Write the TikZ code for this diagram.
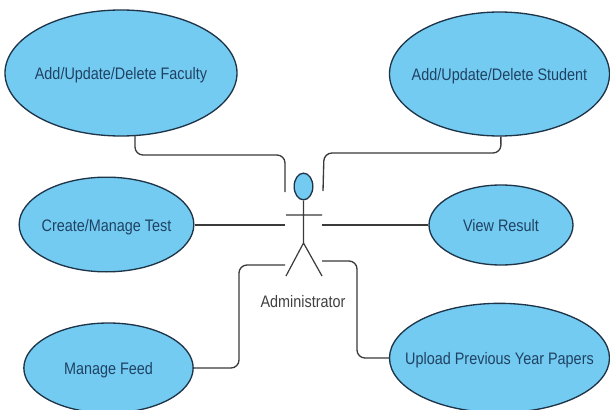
\documentclass[tikz,border=0pt]{standalone}
\usepackage{fontspec}
\setmainfont[FakeStretch=0.865]{Liberation Sans}
\usetikzlibrary{shapes.geometric}
\definecolor{fillblue}{HTML}{74CBF2}
\definecolor{inkline}{HTML}{1E3448}
\definecolor{labelink}{HTML}{1F4263}
\definecolor{connink}{HTML}{3A3A3A}
\newcommand{\uclabel}[1]{\makebox[0pt]{\smash{\raisebox{-5pt}{#1}}}}
\tikzset{
 uc/.style={ellipse,draw=inkline,line width=1pt,fill=fillblue,inner sep=0pt,text=labelink,font=\fontsize{12.5pt}{14pt}\selectfont},
 conn/.style={draw=connink,line width=1pt,rounded corners=6pt},
 body/.style={draw=connink,line width=0.9pt}
}
\begin{document}
\begin{tikzpicture}[x=0.75pt,y=-0.75pt]
\useasboundingbox (0,0) rectangle (610,410);
\fill[white] (0,0) rectangle (610,410);
\node[uc,minimum width=174pt,minimum height=94.5pt] (fac) at (121,73) {\uclabel{Add/Update/Delete Faculty}};
\node[uc,minimum width=165pt,minimum height=93pt] (stu) at (499.5,74) {\uclabel{Add/Update/Delete Student}};
\node[uc,minimum width=131pt,minimum height=71pt] (test) at (106.5,224.5) {\uclabel{Create/Manage Test}};
\node[uc,minimum width=108pt,minimum height=60pt] (res) at (501,225) {\uclabel{View Result}};
\node[uc,minimum width=127pt,minimum height=67.5pt] (feed) at (108.5,368) {\uclabel{Manage Feed}};
\node[uc,minimum width=165pt,minimum height=82pt] (up) at (499.5,358) {\uclabel{Upload Previous Year Papers}};
\node[ellipse,draw=inkline,line width=1pt,fill=fillblue,minimum width=14pt,minimum height=20pt,inner sep=0pt] (head) at (303.5,186.5) {};
\coordinate (hip) at (303.5,243);
\coordinate (ll) at (286,276);
\coordinate (rl) at (322,276);
\coordinate (al) at (286,215);
\coordinate (ar) at (322,215);
\draw[body] (head.south) -- (hip) (al) -- (ar) (ll) -- (hip) -- (rl);
\node[text=black!75,font=\fontsize{12.5pt}{14pt}\selectfont] (adm) at (303,302) {Administrator};
\coordinate (a1) at (285,192);
\coordinate (a2) at (323,191);
\coordinate (a3) at (285,225);
\coordinate (a4) at (322,225);
\coordinate (a5) at (285,265);
\coordinate (a6) at (322,261);
\draw[conn] ([xshift=10.5pt,yshift=1pt]fac.south) -- (135,155) -- (285,155) -- (a1);
\draw[conn] ([xshift=1pt]stu.south) -- (501,153) -- (324,153) -- (a2);
\draw[conn,rounded corners=0pt] (test.east |- a3) -- (a3);
\draw[conn,rounded corners=0pt] (a4) -- (res.west |- a4);
\draw[conn] (feed.east) -- (239,368) -- (239,265) -- (a5);
\draw[conn] (a6) -- (357,261) -- (357,358) -- (up.west);
\end{tikzpicture}
\end{document}
